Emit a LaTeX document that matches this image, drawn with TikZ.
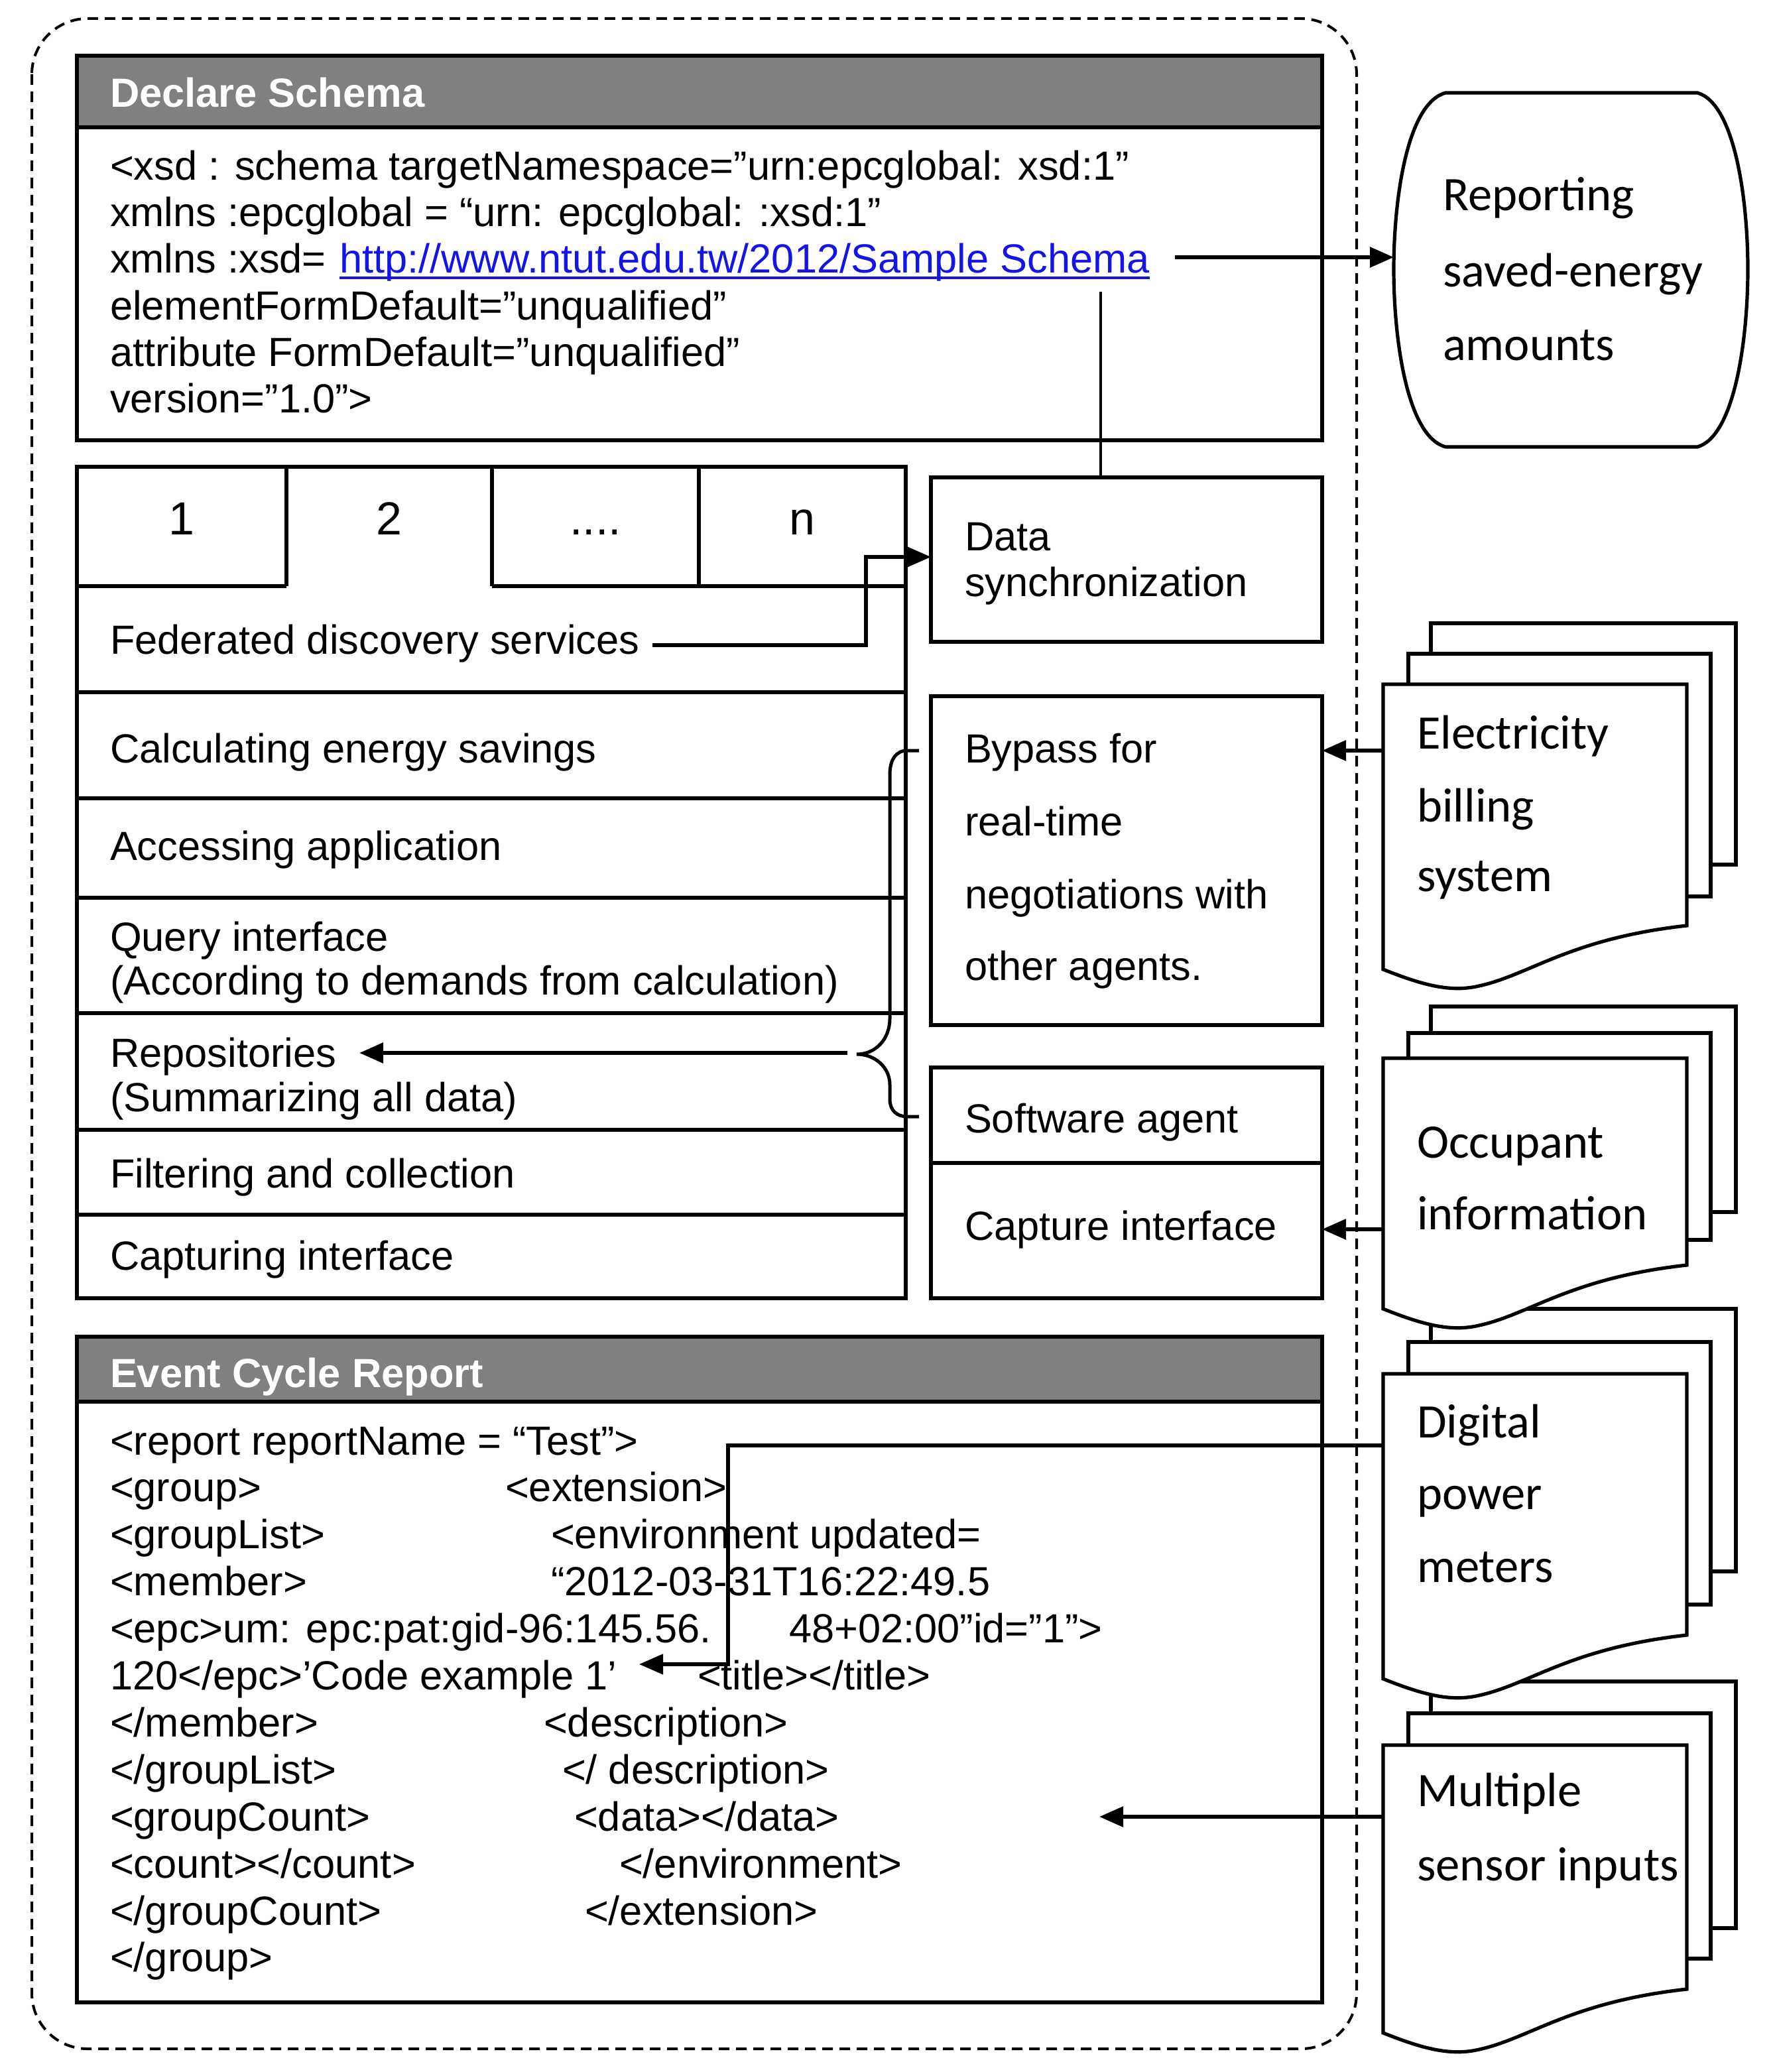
\documentclass[tikz,border=0pt]{standalone}
\usepackage{fontspec}
\setmainfont{Liberation Sans}
\newfontfamily\calfont{Carlito}
\usetikzlibrary{arrows.meta}
\definecolor{hdrgray}{RGB}{128,128,128}
\definecolor{linkblue}{RGB}{20,20,230}
\newcommand\docstackdraw[6]{%
  \draw[docline] (1079,#1) rectangle (1309,#2);
  \draw[docline] (1062,#3) rectangle (1290,#4);
  \draw[docline] (1043,#5) -- (1272,#5) -- (1272,#6) .. controls (1182,#6+10) and (1153,#6+38) .. (1113,#6+46) .. controls (1093,#6+50) and (1073,#6+45) .. (1043,#6+33) -- cycle;
}
\begin{document}
\begin{tikzpicture}[x=1pt,y=-1pt,
  box/.style={draw, line width=3.2pt, rectangle, inner sep=0pt, outer sep=0pt, anchor=north west},
  hdrbox/.style={fill=hdrgray, rectangle, inner sep=0pt, outer sep=0pt, anchor=north west},
  txt/.style={anchor=base west, inner sep=0pt, outer sep=0pt, font=\fontsize{30.7pt}{35pt}\selectfont},
  tabtxt/.style={anchor=base, inner sep=0pt, outer sep=0pt, font=\fontsize{35pt}{40pt}\selectfont},
  ctxt/.style={anchor=base west, inner sep=0pt, outer sep=0pt, font=\calfont\fontsize{36.3pt}{40pt}\selectfont},
  hdr/.style={anchor=base west, inner sep=0pt, outer sep=0pt, text=white, font=\bfseries\fontsize{30.7pt}{35pt}\selectfont},
  arr/.style={line width=3pt, -{Triangle[length=18pt,width=15pt]}},
  conn/.style={line width=2.6pt},
  sep/.style={line width=3.2pt},
  docline/.style={line width=2.6pt, fill=white, line join=miter}
]
\useasboundingbox (0,0) rectangle (1338,1562.5);

% outer dashed frame
\draw[line width=2pt, dash pattern=on 8pt off 5pt, rounded corners=42pt] (24,14) rectangle (1023,1545);

% ---------- Declare Schema ----------
\node[hdrbox, minimum width=939pt, minimum height=54pt] (schemahdr) at (58,42) {};
\node[box, minimum width=939pt, minimum height=290pt] (schema) at (58,42) {};
\draw[sep] (schemahdr.south west) -- (schemahdr.south east);
\node[hdr] (schematitle) at (83,81) {Declare Schema};
\node[txt] (s1) at (83,136) {<xsd : schema targetNamespace=”urn:epcglobal: xsd:1”};
\node[txt] (s2) at (83,171) {xmlns :epcglobal = “urn: epcglobal: :xsd:1”};
\node[txt] (s3) at (83,206) {xmlns :xsd=};
\node[txt, text=linkblue] (link) at (256,206) {http://www.ntut.edu.tw/2012/Sample Schema};
\draw[linkblue, line width=1.6pt] ([yshift=-3.5pt]link.base west) -- ([yshift=-3.5pt]link.base east);
\node[txt] (s4) at (83,241) {elementFormDefault=”unqualified”};
\node[txt] (s5) at (83,276) {attribute FormDefault=”unqualified”};
\node[txt] (s6) at (83,311) {version=”1.0”>};

% ---------- Reporting shape ----------
\draw[line width=2.6pt] (1090,70) -- (1280,70) .. controls (1308,78) and (1318,150) .. (1318,203) .. controls (1318,256) and (1308,329) .. (1280,337) -- (1090,337) .. controls (1061,329) and (1051,256) .. (1051,203) .. controls (1051,150) and (1061,78) .. cycle;
\coordinate (repW) at (1051,194);
\node[ctxt] (r1) at (1088,159) {Reporting};
\node[ctxt] (r2) at (1088,216) {saved-energy};
\node[ctxt] (r3) at (1088,271.5) {amounts};
\coordinate (linkout) at (886,194);
\draw[arr] (linkout) -- (repW);

% ---------- left stack ----------
\node[box, minimum width=625pt, minimum height=627pt] (stack) at (58,352) {};
\draw[sep] (216,352) -- (216,442);
\draw[sep] (371,352) -- (371,442);
\draw[sep] (527,352) -- (527,442);
\draw[sep] (58,442) -- (216,442);
\draw[sep] (371,442) -- (683,442);
\node[tabtxt] (tab1) at (137,403) {1};
\node[tabtxt] (tab2) at (293.5,403) {2};
\node[tabtxt] (tab3) at (449,403) {....};
\node[tabtxt] (tab4) at (605,403) {n};
\foreach \yy in {522,602,677,764,852,916} {\draw[sep] (58,\yy) -- (683,\yy);}
\node[txt] (fed) at (83,493) {Federated discovery services};
\node[txt] (calc) at (83,575) {Calculating energy savings};
\node[txt] (acc) at (83,648.5) {Accessing application};
\node[txt] (qi1) at (83,717) {Query interface};
\node[txt] (qi2) at (83,750) {(According to demands from calculation)};
\node[txt] (rep1) at (83,804.5) {Repositories};
\node[txt] (rep2) at (83,838) {(Summarizing all data)};
\node[txt] (filt) at (83,895.5) {Filtering and collection};
\node[txt] (capt) at (83,957.5) {Capturing interface};

% ---------- middle column ----------
\node[box, minimum width=295pt, minimum height=124pt] (sync) at (702,360) {};
\node[txt] (sy1) at (727.5,415) {Data};
\node[txt] (sy2) at (727.5,449.5) {synchronization};
\node[box, minimum width=295pt, minimum height=248pt] (bypass) at (702,525) {};
\node[txt] (b1) at (727.5,575) {Bypass for};
\node[txt] (b2) at (727.5,630) {real-time};
\node[txt] (b3) at (727.5,685) {negotiations with};
\node[txt] (b4) at (727.5,739) {other agents.};
\node[box, minimum width=295pt, minimum height=174pt] (agent) at (702,805) {};
\draw[sep] (702,877) -- (997,877);
\node[txt] (ag1) at (727.5,854) {Software agent};
\node[txt] (ag2) at (727.5,935) {Capture interface};

% link drop to data synchronization
\coordinate (linkdrop) at (830,220);
\draw[line width=2.4pt] (linkdrop) -- (linkdrop |- sync.north);

% federated -> data sync
\coordinate (fedout) at (492,486.5);
\draw[conn, -{Triangle[length=18pt,width=15pt]}] (fedout) -- (653,486.5) -- (653,420) -- (sync.west |- 0,420);

% brace and arrow to repositories
\draw[line width=2.5pt] (693,566) -- (684,566) .. controls (675,566) and (671,574) .. (671,584) -- (671,768) .. controls (671,784) and (660,795) .. (646,795) .. controls (660,795) and (671,805) .. (671,818) -- (671,829) .. controls (671,837) and (676,842) .. (684,842) -- (693,842);
\coordinate (bracetip) at (639,794);
\coordinate (repend) at (271,794);
\draw[arr] (bracetip) -- (repend);

% ---------- Event Cycle Report ----------
\node[hdrbox, minimum width=939pt, minimum height=49pt] (evhdr) at (58,1008) {};
\node[box, minimum width=939pt, minimum height=502pt] (event) at (58,1008) {};
\draw[sep] (evhdr.south west) -- (evhdr.south east);
\node[hdr] (evtitle) at (83,1046) {Event Cycle Report};
\node[txt] (e0) at (83,1097) {<report reportName = “Test”>};
\node[txt] (e1) at (83,1132.45) {<group>};
\node[txt] (e2) at (83,1167.9) {<groupList>};
\node[txt] (e3) at (83,1203.35) {<member>};
\node[txt] (e4) at (83,1238.8) {<epc>um: epc:pat:gid-96:145.56.};
\node[txt] (e5) at (83,1274.25) {120</epc>’Code example 1’};
\node[txt] (e6) at (83,1309.7) {</member>};
\node[txt] (e7) at (83,1345.15) {</groupList>};
\node[txt] (e8) at (83,1380.6) {<groupCount>};
\node[txt] (e9) at (83,1416.05) {<count></count>};
\node[txt] (e10) at (83,1451.5) {</groupCount>};
\node[txt] (e11) at (83,1486.95) {</group>};
\node[txt] (f1) at (381,1132.45) {<extension>};
\node[txt] (f2) at (415.5,1167.9) {<environment updated=};
\node[txt] (f3) at (415.5,1203.35) {“2012-03-31T16:22:49.5};
\node[txt] (f4) at (595,1238.8) {48+02:00”id=”1”>};
\node[txt] (f5) at (526,1274.25) {<title></title>};
\node[txt] (f6) at (410,1309.7) {<description>};
\node[txt] (f7) at (424,1345.15) {</ description>};
\node[txt] (f8) at (433,1380.6) {<data></data>};
\node[txt] (f9) at (467,1416.05) {</environment>};
\node[txt] (f10) at (441,1451.5) {</extension>};

% ---------- document stacks (bottom first) ----------
\docstackdraw{1268}{1454}{1292}{1477}{1316}{1500}
\node[ctxt] (m1) at (1068.5,1362) {Multiple};
\node[ctxt] (m2) at (1068.5,1418) {sensor inputs};
\docstackdraw{987}{1185}{1012}{1210}{1036}{1233}
\node[ctxt] (d1) at (1068.5,1084) {Digital};
\node[ctxt] (d2) at (1068.5,1138) {power};
\node[ctxt] (d3) at (1068.5,1193) {meters};
\docstackdraw{759}{914}{779}{935}{798}{954}
\node[ctxt] (o1) at (1068.5,873) {Occupant};
\node[ctxt] (o2) at (1068.5,927) {information};
\docstackdraw{470}{652}{493}{676}{516}{698}
\node[ctxt] (el1) at (1068.5,564.6) {Electricity};
\node[ctxt] (el2) at (1068.5,619.5) {billing};
\node[ctxt] (el3) at (1068.5,672) {system};

% ---------- arrows from documents ----------
\coordinate (elecL) at (1043,566);
\draw[arr] (elecL) -- (bypass.east |- elecL);
\coordinate (occL) at (1043,927);
\draw[arr] (occL) -- (agent.east |- occL);
\coordinate (digL) at (1043,1090);
\coordinate (epcend) at (482,1255);
\draw[conn, -{Triangle[length=18pt,width=15pt]}] (digL) -- (549,1090) -- (549,1255) -- (epcend);
\coordinate (mulL) at (1043,1370);
\coordinate (dataend) at (829,1370);
\draw[arr] (mulL) -- (dataend);
\end{tikzpicture}
\end{document}
